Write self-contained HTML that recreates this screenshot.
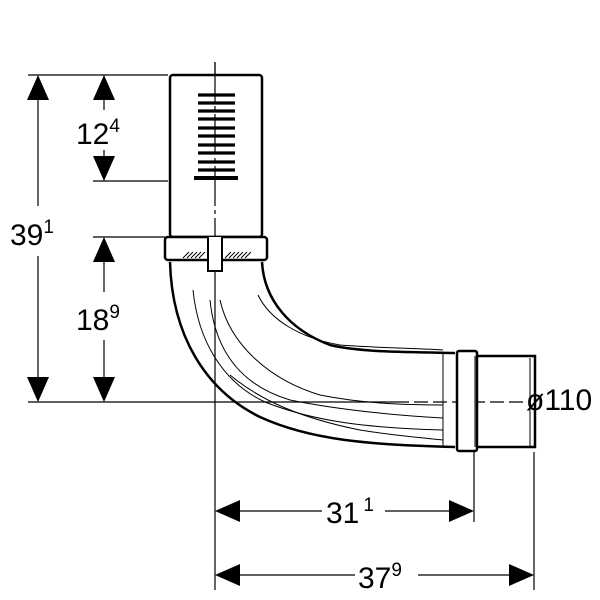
<!DOCTYPE html>
<html><head><meta charset="utf-8"><style>
html,body{margin:0;padding:0;background:#fff}
svg{display:block}
text{font-family:"Liberation Sans",sans-serif;fill:#000}
</style></head><body>
<svg width="600" height="600" viewBox="0 0 600 600" xmlns="http://www.w3.org/2000/svg">
<g stroke="#000" stroke-width="1.2" fill="none">
<line x1="28" y1="75" x2="168" y2="75"/>
<line x1="93" y1="181" x2="168" y2="181"/>
<line x1="93" y1="237" x2="165" y2="237"/>
<line x1="28" y1="402" x2="395" y2="402"/>
<line x1="395" y1="402" x2="525" y2="402" stroke-dasharray="14,5"/>
<line x1="215" y1="62" x2="215" y2="262" stroke-dasharray="40,4,4,4"/>
<line x1="215" y1="262" x2="215" y2="590"/>
<line x1="474" y1="452" x2="474" y2="522"/>
<line x1="534" y1="452" x2="534" y2="590"/>
<line x1="38" y1="95" x2="38" y2="206"/>
<line x1="38" y1="256" x2="38" y2="382"/>
<line x1="104" y1="95" x2="104" y2="110"/>
<line x1="104" y1="150" x2="104" y2="162"/>
<line x1="104" y1="257" x2="104" y2="292"/>
<line x1="104" y1="340" x2="104" y2="382"/>
<line x1="235" y1="511" x2="322" y2="511"/>
<line x1="385" y1="511" x2="454" y2="511"/>
<line x1="235" y1="575" x2="355" y2="575"/>
<line x1="418" y1="575" x2="514" y2="575"/>
</g>
<g fill="#000">
<polygon points="38,75 27,100 49,100"/><polygon points="38,402 27,377 49,377"/>
<polygon points="104,75 93,100 115,100"/><polygon points="104,181 93,156 115,156"/>
<polygon points="104,237 93,262 115,262"/><polygon points="104,402 93,377 115,377"/>
<polygon points="215,511 240,500 240,522"/><polygon points="474,511 449,500 449,522"/>
<polygon points="215,575 240,564 240,586"/><polygon points="534,575 509,564 509,586"/>
</g>
<g font-size="30">
<text x="10" y="245">39<tspan font-size="19" dy="-12">1</tspan></text>
<text x="76" y="144">12<tspan font-size="19" dy="-12">4</tspan></text>
<text x="76" y="330">18<tspan font-size="19" dy="-12">9</tspan></text>
<text x="326" y="523">31<tspan font-size="19" dy="-12" dx="4">1</tspan></text>
<text x="358" y="588">37<tspan font-size="19" dy="-12">9</tspan></text>
<text x="526" y="410">ø110</text>
</g>
<g stroke="#000" fill="none">
<rect x="170" y="75" width="92" height="162" rx="3" stroke-width="2.5" fill="#fff"/>
<rect x="165" y="237" width="102" height="23" rx="3" stroke-width="2.5" fill="#fff"/>
<line x1="168" y1="260" x2="264" y2="260" stroke-width="1.2"/>
<g stroke-width="3.2">
<line x1="198" y1="95" x2="235" y2="95"/><line x1="198" y1="103" x2="235" y2="103"/>
<line x1="198" y1="111" x2="235" y2="111"/><line x1="198" y1="119" x2="235" y2="119"/>
<line x1="198" y1="128" x2="235" y2="128"/><line x1="198" y1="136" x2="235" y2="136"/>
<line x1="198" y1="145" x2="235" y2="145"/><line x1="198" y1="153" x2="235" y2="153"/>
<line x1="198" y1="162" x2="235" y2="162"/><line x1="198" y1="170" x2="235" y2="170"/>
</g>
<line x1="194" y1="178" x2="238" y2="178" stroke-width="4"/>
<line x1="215" y1="62" x2="215" y2="237" stroke-width="1.2" stroke-dasharray="40,4,4,4"/>
<path d="M208,237 V271 H222 V237" stroke-width="2" fill="#fff"/>
<g stroke-width="1"><path d="M183,258 l6,-6 M187,258 l6,-6 M191,258 l6,-6 M195,258 l6,-6 M199,258 l6,-6 M225,258 l6,-6 M229,258 l6,-6 M233,258 l6,-6 M237,258 l6,-6 M241,258 l6,-6 M245,258 l6,-6"/></g>
<path d="M170,262 C172,335 205,390 260,417 C310,440 370,445 455,447" stroke-width="2.5"/>
<path d="M262,262 C264,300 290,330 330,345 C360,352 400,352 455,353" stroke-width="2.5"/>
<path d="M443,353 V447" stroke-width="1"/>
<g stroke-width="1">
<path d="M193,290 C198,340 222,382 265,402 C315,422 370,428 443,430"/>
<path d="M210,300 C215,350 240,385 290,400 C340,410 390,415 443,418"/>
<path d="M220,300 C230,345 270,380 320,395 C360,403 400,405 443,405"/>
<path d="M258,295 C270,320 300,338 340,345 C380,348 410,348 443,350"/>
<path d="M230,375 C260,400 300,418 360,430 C390,435 415,437 443,440"/>
</g>
<rect x="457" y="351" width="20" height="100" rx="2" stroke-width="2.5" fill="#fff"/>
<path d="M477,356 H535 V447 H477" stroke-width="2.5"/>
<line x1="475" y1="356" x2="475" y2="447" stroke-width="1"/>
<line x1="530" y1="358" x2="530" y2="447" stroke-width="1"/>
</g>
</svg>
</body></html>
